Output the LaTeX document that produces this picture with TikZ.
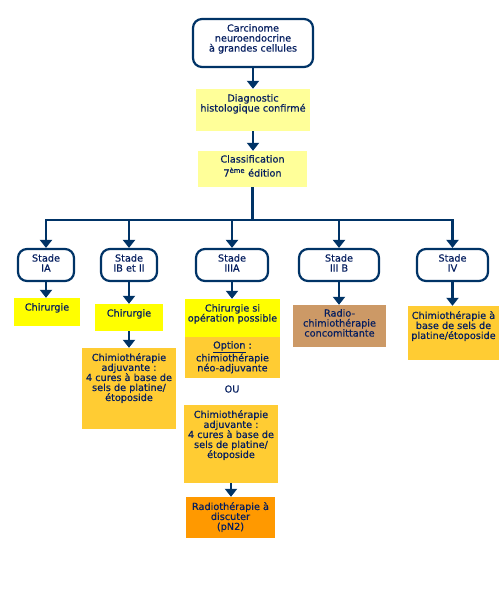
\documentclass[tikz,border=0pt]{standalone}
\usepackage{fontspec}
\setmainfont{DejaVu Sans}[BoldFont={DejaVu Sans}, BoldFeatures={FakeBold=0.5}]
\usetikzlibrary{fit,arrows.meta}
\definecolor{navy}{RGB}{0,51,102}
\definecolor{navytext}{RGB}{5,30,95}
\definecolor{lightyel}{HTML}{FFFF99}
\definecolor{brightyel}{HTML}{FFFF00}
\definecolor{gold}{HTML}{FFCC33}
\definecolor{orangebox}{HTML}{FF9900}
\definecolor{tanbox}{HTML}{CC9966}
\newcommand\fs{\fontsize{9.7}{10}\selectfont\bfseries}
\tikzset{
  lnk/.style={draw=navy, line width=2.6pt},
  arr/.style={lnk, -{Triangle[width=12pt,length=8pt]}},
  rbox/.style={draw=navy, line width=2.2pt, rounded corners=9pt, inner sep=0pt},
  fbox/.style={inner sep=0pt, draw=none},
  txt/.style={font=\fs, text=navytext, align=center, inner sep=0pt, anchor=north},
}
\begin{document}
\begin{tikzpicture}[x=1pt,y=-1pt]
\useasboundingbox (0,0) rectangle (500,600);
% boxes
\node[rbox, fit={(193,19) (313,67)}] (top) {};
\node[fbox, fill=lightyel, fit={(196,89) (310,131)}] (diag) {};
\node[fbox, fill=lightyel, fit={(198,151) (307,187)}] (class) {};
\node[rbox, fit={(18,249) (74,281)}] (sIA) {};
\node[rbox, fit={(101,249) (157,281)}] (sIB) {};
\node[rbox, fit={(196,249) (268,281)}] (sIIIA) {};
\node[rbox, fit={(299,249) (379,281)}] (sIIIB) {};
\node[rbox, fit={(417,249) (488,281)}] (sIV) {};
\node[fbox, fill=brightyel, fit={(14,298) (80,326)}] (chirIA) {};
\node[fbox, fill=brightyel, fit={(95,304) (163,331)}] (chirIB) {};
\node[fbox, fill=gold, fit={(82,348) (176,429)}] (chimIB) {};
\node[fbox, fill=brightyel, fit={(185,299) (280,337)}] (chirIIIA) {};
\node[fbox, fill=gold, fit={(185,337) (280,378)}] (opt) {};
\node[fbox, fill=gold, fit={(184,405) (278,483)}] (chimIIIA) {};
\node[fbox, fill=orangebox, fit={(186,497) (275,538)}] (radio) {};
\node[fbox, fill=tanbox, fit={(293,305) (386,347)}] (rcc) {};
\node[fbox, fill=gold, fit={(408,306) (499,360)}] (chimIV) {};
% texts
\node[txt] (ttop) at (253,24) {Carcinome\\neuroendocrine\\à grandes cellules};
\node[txt] (tdiag) at (253,94) {Diagnostic\\histologique confirmé};
\node[txt] (tclass) at (252.5,155) {Classification\\[4pt]7\textsuperscript{ème} édition};
\node[txt] (tsIA) at (46,254) {Stade\\IA};
\node[txt] (tsIB) at (129,254) {Stade\\IB et II};
\node[txt] (tsIIIA) at (232,254) {Stade\\IIIA};
\node[txt] (tsIIIB) at (339,254) {Stade\\III B};
\node[txt] (tsIV) at (452.5,254) {Stade\\IV};
\node[txt] (tchirIA) at (47,303) {Chirurgie};
\node[txt] (tchirIB) at (129,309) {Chirurgie};
\node[txt] (tchimIB) at (129,353) {Chimiothérapie\\adjuvante :\\4 cures à base de\\sels de platine/\\étoposide};
\node[txt] (tchirIIIA) at (232.5,304) {Chirurgie si\\opération possible};
\node[txt] (topt) at (232.5,341) {\underline{Option} :\\chimiothérapie\\néo-adjuvante};
\node[txt, anchor=center] (tou) at (232,389) {OU};
\node[txt] (tchimIIIA) at (231,410) {Chimiothérapie\\adjuvante :\\4 cures à base de\\sels de platine/\\étoposide};
\node[txt] (tradio) at (230.5,502) {Radiothérapie à\\discuter\\(pN2)};
\node[txt] (trcc) at (339.5,309) {Radio-\\chimiothérapie\\concomittante};
\node[txt] (tchimIV) at (453.5,311) {Chimiothérapie à\\base de sels de\\platine/étoposide};
% connectors
\coordinate (bus) at (253,220);
\draw[arr] (top.south) -- (top.south |- diag.north);
\draw[arr] (diag.south) -- (diag.south |- class.north);
\draw[lnk] (class.south) -- (class.south |- bus);
\draw[arr] (bus) -| (sIA.north);
\draw[arr] (bus) -| (sIB.north);
\draw[arr] (bus) -| (sIIIA.north);
\draw[arr] (bus) -| (sIIIB.north);
\draw[arr] (bus) -| (sIV.north);
\draw[arr] (sIA.south) -- (sIA.south |- chirIA.north);
\draw[arr] (sIB.south) -- (sIB.south |- chirIB.north);
\draw[arr] (chirIB.south) -- (chirIB.south |- chimIB.north);
\draw[arr] (sIIIA.south) -- (sIIIA.south |- chirIIIA.north);
\draw[arr] (chimIIIA.south) -- (chimIIIA.south |- radio.north);
\draw[arr] (sIIIB.south) -- (sIIIB.south |- rcc.north);
\draw[arr] (sIV.south) -- (sIV.south |- chimIV.north);
\end{tikzpicture}
\end{document}
